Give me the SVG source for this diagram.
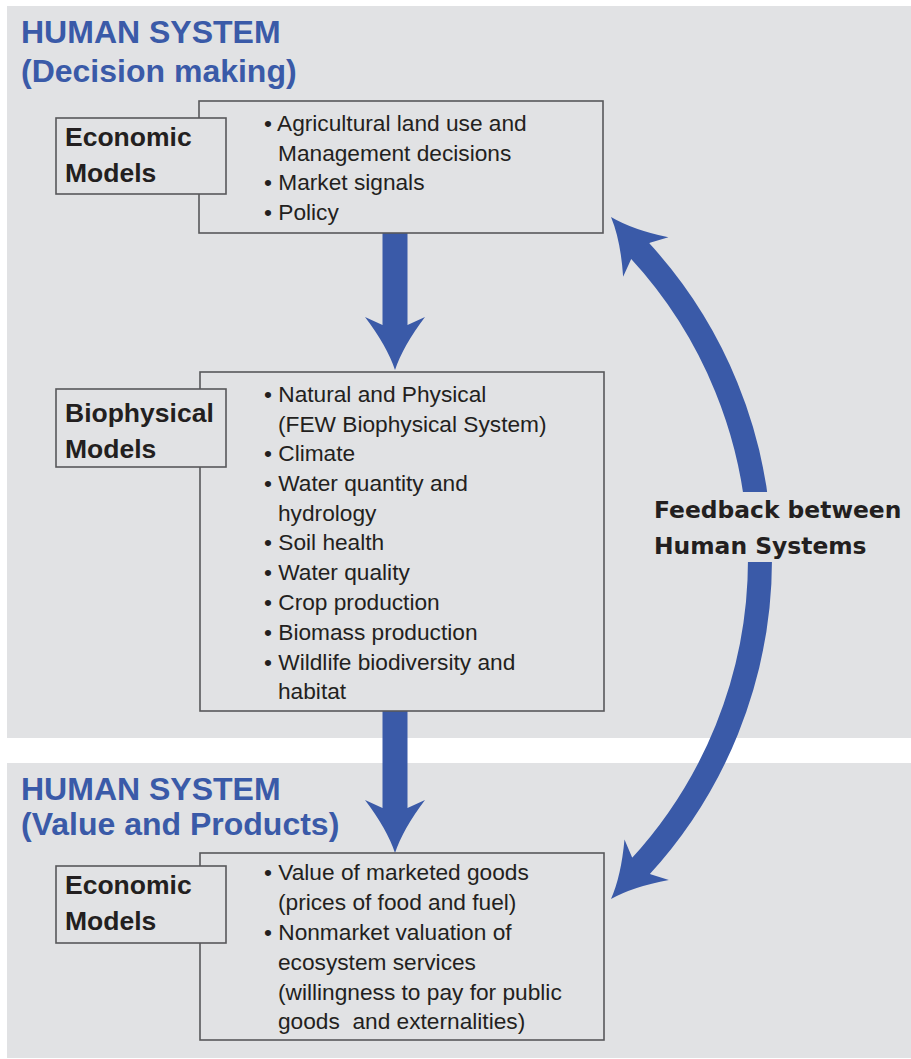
<svg xmlns="http://www.w3.org/2000/svg" width="911" height="1059" viewBox="0 0 911 1059">
<style>
.panel{fill:#e1e2e4}
.box{fill:#e1e2e4;stroke:#58585a;stroke-width:1.6}
.title{font-family:"Liberation Sans",Arial,sans-serif;font-weight:bold;font-size:32px;fill:#3a5aa8}
.lbl{font-family:"Liberation Sans",Arial,sans-serif;font-weight:bold;font-size:26.5px;fill:#231f20}
.item{font-family:"Liberation Sans",Arial,sans-serif;font-size:22.7px;fill:#231f20;white-space:pre}
.fb{font-family:"DejaVu Sans",Verdana,sans-serif;font-weight:bold;font-size:23.4px;fill:#231f20}
.blue{fill:#3a5aa8}
</style>
<defs>
<path id="head" d="M0,0 Q-24,-8 -53,-30 L-45,-12.5 L-45,12.5 L-53,30 Q-24,8 0,0 Z"/>
</defs>
<rect class="panel" x="7" y="6" width="904" height="732"/>
<rect class="panel" x="7" y="763" width="904" height="295"/>
<text class="title" x="21" y="43">HUMAN SYSTEM</text>
<text class="title" x="21" y="82">(Decision making)</text>
<text class="title" x="21" y="800">HUMAN SYSTEM</text>
<text class="title" x="21" y="835">(Value and Products)</text>

<g id="connectors">
<rect class="blue" x="382.5" y="233" width="25" height="94"/>
<use href="#head" class="blue" transform="translate(395,370) rotate(90)"/>
<rect class="blue" x="382.5" y="711" width="25" height="99"/>
<use href="#head" class="blue" transform="translate(395,853) rotate(90)"/>
<path d="M638.9,249.7 A455.5,455.5 0 0 1 639.9,867.2" fill="none" stroke="#3a5aa8" stroke-width="24"/>
<use href="#head" class="blue" transform="translate(611,217) rotate(-131)"/>
<use href="#head" class="blue" transform="translate(611,899) rotate(132.3)"/>
</g>

<g id="feedback-label">
<rect class="panel" x="652" y="492" width="252" height="70"/>
<text class="fb" x="654" y="518">Feedback between</text>
<text class="fb" x="654" y="554">Human Systems</text>
</g>

<g id="decision-content">
<rect class="box" x="199" y="101" width="404" height="132"/>
<text class="item" x="264" y="131">• Agricultural land use and</text>
<text class="item" x="278" y="161">Management decisions</text>
<text class="item" x="264" y="190">• Market signals</text>
<text class="item" x="264" y="220">• Policy</text>
</g>
<g id="economic-models-top">
<rect class="box" x="56" y="118" width="170" height="76"/>
<text class="lbl" x="65" y="146">Economic</text>
<text class="lbl" x="65" y="182">Models</text>
</g>

<g id="biophysical-content">
<rect class="box" x="200" y="372" width="404" height="339"/>
<text class="item" x="264" y="402">• Natural and Physical</text>
<text class="item" x="278" y="432">(FEW Biophysical System)</text>
<text class="item" x="264" y="461">• Climate</text>
<text class="item" x="264" y="491">• Water quantity and</text>
<text class="item" x="278" y="521">hydrology</text>
<text class="item" x="264" y="550">• Soil health</text>
<text class="item" x="264" y="580">• Water quality</text>
<text class="item" x="264" y="610">• Crop production</text>
<text class="item" x="264" y="640">• Biomass production</text>
<text class="item" x="264" y="670">• Wildlife biodiversity and</text>
<text class="item" x="278" y="699">habitat</text>
</g>
<g id="biophysical-models">
<rect class="box" x="56" y="389" width="170" height="78"/>
<text class="lbl" x="65" y="422">Biophysical</text>
<text class="lbl" x="65" y="458">Models</text>
</g>

<g id="value-content">
<rect class="box" x="200" y="853" width="404" height="187"/>
<text class="item" x="264" y="880">• Value of marketed goods</text>
<text class="item" x="278" y="910">(prices of food and fuel)</text>
<text class="item" x="264" y="940">• Nonmarket valuation of</text>
<text class="item" x="278" y="970">ecosystem services</text>
<text class="item" x="278" y="1000">(willingness to pay for public</text>
<text class="item" x="278" y="1029" xml:space="preserve">goods  and externalities)</text>
</g>
<g id="economic-models-bottom">
<rect class="box" x="56" y="866" width="170" height="77"/>
<text class="lbl" x="65" y="894">Economic</text>
<text class="lbl" x="65" y="930">Models</text>
</g>
</svg>
